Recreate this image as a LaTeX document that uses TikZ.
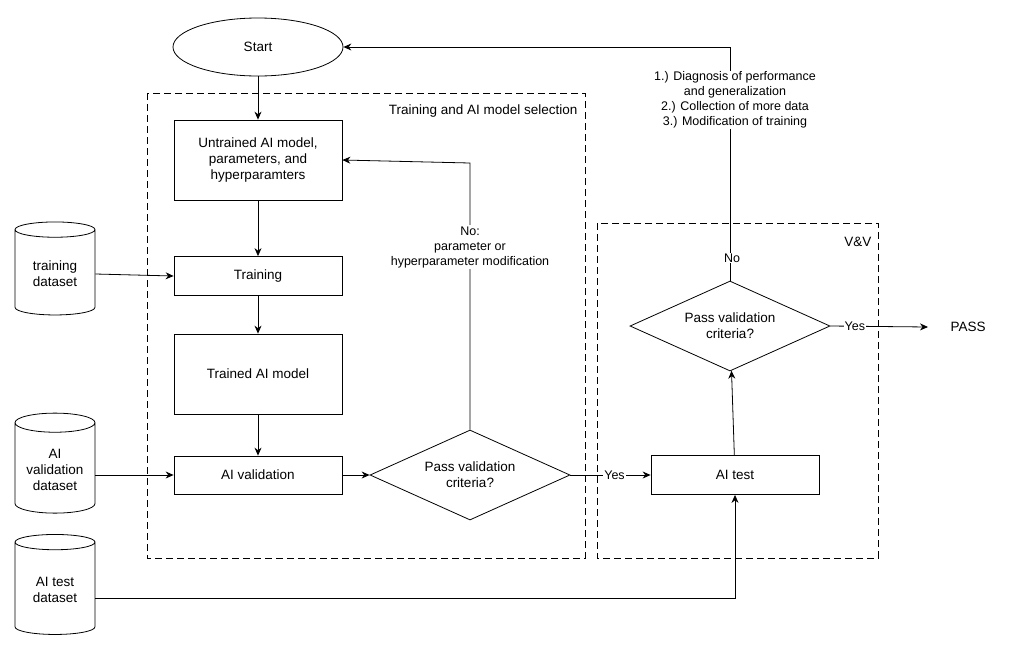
\documentclass[tikz,border=0pt]{standalone}
\usepackage{fontspec}
\setmainfont{Liberation Sans}
\usetikzlibrary{shapes.geometric,arrows.meta}
\begin{document}
\begin{tikzpicture}[x=1pt,y=-1pt,
  every node/.style={font=\fontsize{13.5}{16}\selectfont},
  box/.style={draw,thick,minimum width=168pt,align=center},
  dia/.style={draw,thick,diamond,aspect=2.2,minimum width=200pt,minimum height=90pt,inner sep=0pt,align=center},
  cyl/.style={draw,thick,cylinder,shape border rotate=90,aspect=0.3,minimum width=80pt,align=center},
  arr/.style={thick,-{Stealth[length=8pt,width=7pt]}},
  dbox/.style={thick,dash pattern=on 7pt off 4pt},
  lab/.style={fill=white,inner sep=1pt,font=\fontsize{12.5}{15}\selectfont,align=center}]
\useasboundingbox (0,0) rectangle (1024,665);
\draw[dbox] (147,93) rectangle (585,558);
\node[anchor=east] (tl) at (581,111) {Training and AI model selection};
\draw[dbox] (597,223) rectangle (878,558);
\node[anchor=east] (vl) at (875,242) {V\&V};
\node[draw,thick,ellipse,minimum width=170pt,minimum height=58pt] (start) at (258,47) {Start};
\node[box,minimum height=80pt] (unt) at (258,160) {Untrained AI model,\\parameters, and\\hyperparamters};
\node[box,minimum height=39pt] (tr) at (258,276) {Training};
\node[box,minimum height=80pt] (trd) at (258,374) {Trained AI model};
\node[box,minimum height=38pt] (val) at (258,475) {AI validation};
\node[dia] (d1) at (470,475) {Pass validation\\criteria?};
\node[box,minimum height=39pt] (test) at (735,475) {AI test};
\node[dia] (d2) at (730,326) {Pass validation\\criteria?};
\node (pass) at (968,327) {PASS};
\node[cyl,minimum height=93pt] (c1) at (55,274) {training\\dataset};
\node[cyl,minimum height=100pt] (c2) at (55,470) {AI\\validation\\dataset};
\node[cyl,minimum height=100pt] (c3) at (55,590) {AI test\\dataset};
\draw[arr] (start) -- (unt);
\draw[arr] (unt) -- (tr);
\draw[arr] (tr) -- (trd);
\draw[arr] (trd) -- (val);
\draw[arr] (c1.east) -- (tr.west);
\draw[arr] (c2.east |- val.west) -- (val.west);
\draw[arr] (val) -- (d1);
\draw[arr] (d1.east) -- node[lab,pos=0.55]{Yes} (test.west);
\draw[arr] (c3.east |- 0,598) -| (test.south);
\draw[arr] (test) -- (d2);
\draw[arr] (d2.east) -- node[lab,pos=0.25]{Yes} (928,327);
\draw[arr] (d1.north) -- (470,163) -- (unt.east);
\node[lab] (nl) at (470,247) {No:\\parameter or\\hyperparameter modification};
\draw[arr] (d2.north) -- (730,47) -- (start.east);
\node[lab] (no) at (732,258) {No};
\node[lab] (fb) at (735,100) {1.) Diagnosis of performance\\and generalization\\2.) Collection of more data\\3.) Modification of training};
\end{tikzpicture}
\end{document}
